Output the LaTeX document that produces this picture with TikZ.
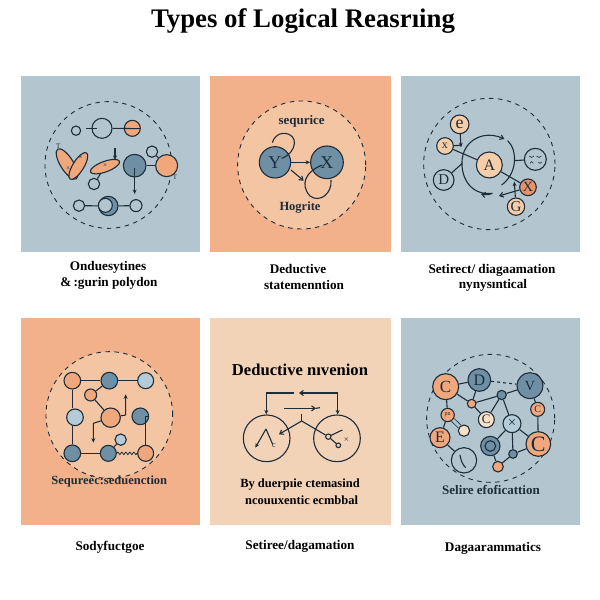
\documentclass[tikz,border=0pt]{standalone}
\usepackage{fontspec}
\setmainfont{Liberation Serif}
\usetikzlibrary{arrows.meta,decorations.pathmorphing,shapes.geometric}
\definecolor{ink}{HTML}{1E2D3A}
\definecolor{panelblue}{HTML}{B3C6CF}
\definecolor{panelorange}{HTML}{F2B08B}
\definecolor{panelpeach}{HTML}{F3D3B8}
\definecolor{glow}{HTML}{F3C5A2}
\definecolor{steel}{HTML}{6E8FA4}
\definecolor{lightsteel}{HTML}{B5CCD8}
\definecolor{orangefill}{HTML}{F0A77C}
\definecolor{peachfill}{HTML}{F6CDA9}
\definecolor{creamfill}{HTML}{F8E1C8}
\definecolor{deeporange}{HTML}{E5936A}
\tikzset{
  dot/.style={circle,draw=ink,line width=1.1pt,inner sep=0pt,minimum size={#1pt/3},font=\fontsize{11}{11}\selectfont,text=ink},
  halo/.style={circle,draw=ink,line width=.9pt,dash pattern=on 4.5pt off 4.5pt,inner sep=0pt,minimum size={#1pt/3}},
  lobe/.style={ellipse,draw=ink,line width=1.1pt,fill=orangefill,inner sep=0pt},
  wire/.style={draw=ink,line width=1.1pt},
  arr/.style={wire,-{Stealth[length=4.5pt,width=4pt]}},
  vee/.style={wire,-{Straight Barb[length=3.5pt,width=5pt]}},
  caption/.style={font=\fontsize{13.2}{13.2}\selectfont\bfseries,text=black,inner sep=0pt},
  intext/.style={font=\fontsize{12.5}{12.5}\selectfont\bfseries,text=ink,inner sep=0pt},
  zoomed/.style={x=0.3333pt,y=-0.3333pt},
  glyph/.style={font=\fontsize{7}{7}\selectfont,text=ink,inner sep=0pt}
}
\begin{document}
\begin{tikzpicture}[x=1pt,y=-1pt]
\useasboundingbox (0,0) rectangle (600,600);
\fill[white] (0,0) rectangle (600,600);
% panels
\fill[panelblue] (21,76) rectangle (200,252);
\fill[panelorange] (210,76) rectangle (391,252);
\fill[panelblue] (401,76) rectangle (580,252);
\fill[panelorange] (21,318) rectangle (200,525);
\fill[panelpeach] (210,318) rectangle (391,525);
\fill[panelblue] (401,318) rectangle (580,525);
% title and captions
\node[inner sep=0pt,font=\fontsize{26.8}{26.8}\selectfont\bfseries] (title) at (303,21) {Types of Logical Reasrıing};
\node[caption] (c1a) at (108,267.5) {Onduesytines};
\node[caption] (c1b) at (109,283) {\&\,:gurin polydon};
\node[caption] (c2a) at (298,268.5) {Deductive};
\node[caption] (c2b) at (304,284.5) {statemenntion};
\node[caption] (c3a) at (492,270) {Setirect/ diagaamation};
\node[caption] (c3b) at (493,285.5) {nynysıntical};
\node[caption] (c4) at (110,547) {Sodyfuctgoe};
\node[caption] (c5) at (300,546) {Setiree/dagamation};
\node[caption] (c6) at (493,548.5) {Dagaarammatics};

% ---------- panel 1
\begin{scope}[shift={(20,70)},zoomed]
\node[halo=380] (ah) at (265,285) {};
\node[dot=28] (a1) at (168,182) {};
\node[dot=60] (a2) at (246,175) {};
\node[dot=48,fill=orangefill] (a3) at (337,175) {};
\coordinate (a2l) at (198,176); \coordinate (a2i) at (232,176); \coordinate (a3i) at (360,176);
\draw[wire] (a2l) -- (a2i);
\draw[wire] (a2.east) -- (a3i);
\node[lobe,minimum width=35pt,minimum height=13pt,rotate=-58] (e1) at (141,282) {};
\node[lobe,minimum width=31pt,minimum height=11pt,rotate=58] (e2) at (175,288) {};
\node[lobe,minimum width=31pt,minimum height=10.5pt,rotate=20] (e3) at (255,290) {};
\node[glyph] (e3x) at (255,288) {×};
\node[glyph] (e2x) at (182,263) {×};
\node[glyph] (e1x) at (144,296) {×};
\node[glyph] (t1) at (115,230) {T};
\node[glyph] (t2) at (465,323) {T};
\node[dot=34] (a4) at (222,342) {};
\draw[wire] (a4) -- (e3);
\node[dot=34] (a5) at (396,245) {};
\node[dot=68,fill=steel] (a6) at (344,287) {};
\node[dot=66,fill=orangefill] (a7) at (440,287) {};
\draw[wire] (a6) -- (a7);
\draw[wire] (a5) -- (a7);
\coordinate (a6b) at (344,372); \coordinate (a6t) at (344,295);
\draw[arr] (a6t) -- (a6b);
\coordinate (e3t) at (285,235); \coordinate (e3a) at (285,270);
\draw[arr] (e3t) -- (e3a);
\node[dot=34] (a8) at (177,407) {};
\node[dot=58,fill=steel] (a9) at (265,408) {};
\node[dot=36] (a10) at (348,407) {};
\draw[wire] (a8) -- (a9);
\draw[wire] (a9) -- (a10);
\node[dot=42,fill=panelblue] (a9i) at (256,406) {};
\end{scope}

% ---------- panel 2
\begin{scope}[shift={(205,70)},zoomed]
\node[halo=384,fill=glow] (bh) at (290,285) {};
\node[intext,font=\fontsize{13}{13}\selectfont\bfseries] (bt) at (290,153) {sequrice};
\node[intext,font=\fontsize{12.5}{12.5}\selectfont\bfseries] (bb) at (285,412) {Hogrite};
\node[dot=94,fill=steel,font=\fontsize{18}{18}\selectfont] (Y) at (210,277) {Y};
\node[dot=98,fill=steel,font=\fontsize{18}{18}\selectfont] (X) at (366,277) {X};
\draw[arr] (Y) -- (X);
\coordinate (y1) at (230,265); \coordinate (y2) at (202,218);
\draw[wire] (y1) .. controls (275,250) and (285,190) .. (235,190) .. controls (218,190) and (205,205) .. (y2);
\coordinate (x1) at (352,285); \coordinate (x2) at (378,330);
\draw[wire] (x1) .. controls (300,305) and (285,345) .. (315,378) .. controls (345,400) and (382,370) .. (x2);
\coordinate (y3) at (258,300); \coordinate (y4) at (296,332);
\draw[vee] (y3) -- (y4);
\end{scope}

% ---------- panel 3
\begin{scope}[shift={(395,70)},zoomed]
\node[halo=394] (ch) at (283,282) {};
\node[dot=78,fill=peachfill,font=\fontsize{16}{16}\selectfont] (A) at (283,285) {A};
\coordinate (r1) at (212,235); \coordinate (r2) at (328,207); \coordinate (r3) at (338,212); \coordinate (r4) at (320,345);
\coordinate (r5) at (258,372); \coordinate (rr) at (357,272); \coordinate (r6) at (292,370);
\draw[vee] (r1) .. controls (238,192) and (288,188) .. (r2);
\draw[wire] (r3) .. controls (368,240) and (368,310) .. (r4);
\draw[wire] (r1) .. controls (185,280) and (205,380) .. (r6);
\draw[vee] (r6) .. controls (280,375) and (270,375) .. (r5);
\node[dot=56,fill=peachfill,font=\fontsize{18}{18}\selectfont] (ce) at (194,163) {e};
\node[dot=50,fill=peachfill,font=\fontsize{12}{12}\selectfont] (cx) at (150,228) {x};
\node[dot=62,font=\fontsize{15}{15}\selectfont] (cD) at (146,330) {D};
\node[dot=50,fill=deeporange,font=\fontsize{14}{14}\selectfont] (cX) at (399,352) {X};
\node[dot=52,fill=peachfill,font=\fontsize{15}{15}\selectfont] (cG) at (363,410) {G};
\node[dot=66] (cf) at (421,268) {};
\draw[wire,line width=.6pt] (403,258) .. controls (407,264) and (413,264) .. (417,258);
\draw[wire,line width=.6pt] (425,258) .. controls (429,264) and (435,264) .. (439,258);
\draw[wire,line width=.6pt] (405,280) -- (410,275) -- (415,280);
\draw[wire,line width=.6pt] (430,276) -- (435,280) -- (440,276);
\draw[wire] (cx) -- (A);
\draw[wire] (A) -- (cX);
\coordinate (rd) at (202,280);
\draw[wire] (cD) -- (rd);
\draw[wire] (rr) -- (cf);
\coordinate (ea) at (198,232); \coordinate (exa) at (200,226);
\draw[arr] (ce) -- (ea);
\draw[wire] (cx) -- (exa);
\coordinate (ga) at (358,335); \coordinate (xa) at (312,378);
\draw[arr] (cG) -- (ga);
\draw[vee] (cX) -- (xa);
\end{scope}

% ---------- panel 4
\begin{scope}[shift={(15,315)},zoomed]
\node[halo=380,fill=glow] (dh) at (283,300) {};
\node[dot=50,fill=orangefill] (n1) at (172,197) {};
\node[dot=50,fill=steel] (n2) at (283,197) {};
\node[dot=48,fill=lightsteel] (n3) at (392,197) {};
\node[dot=36,fill=orangefill] (n4) at (227,240) {};
\node[dot=50,fill=lightsteel] (n5) at (180,307) {};
\node[dot=58,fill=orangefill] (n6) at (287,308) {};
\node[dot=50,fill=steel] (n7) at (376,304) {};
\node[dot=50,fill=steel] (n8) at (172,415) {};
\node[dot=48,fill=steel] (n9) at (280,415) {};
\node[dot=48,fill=orangefill] (n10) at (392,415) {};
\node[dot=34,fill=lightsteel] (n11) at (317,374) {};
\draw[wire] (n1) -- (n2);
\draw[wire] (n2) -- (n3);
\draw[wire] (n1.south) -- (n1.south |- n5.north);
\draw[wire] (n8.north) -- (n8.north |- n5.south);
\draw[wire] (n8) -- (n9);
\draw[wire,line width=.8pt,decorate,decoration={zigzag,amplitude=1.3pt,segment length=4pt}] (n9) -- (n10);
\draw[wire] (n7) -| (n10);
\draw[wire] (n4) -- (n2);
\draw[wire] (n4) -- (n6);
\draw[wire] (n9) -- (n11);
\coordinate (u1) at (332,300); \coordinate (u2) at (332,238);
\draw[arr] (n6) -- (u1) -- (u2);
\coordinate (d1) at (235,325); \coordinate (d2) at (235,383);
\draw[arr] (n6) -- (d1) -- (d2);
\node[intext] (dt) at (283,498) {Sequreéc:seduenction};
\end{scope}

% ---------- panel 5
\begin{scope}[shift={(205,315)},zoomed]
\node[intext,font=\fontsize{16.6}{16.6}\selectfont\bfseries,text=black] (et) at (285,165) {Deductive nıvenion};
\node[dot=140] (L) at (185,370) {};
\node[dot=140] (R) at (396,370) {};
\coordinate (t1) at (268,234); \coordinate (t2) at (184,234);
\coordinate (t3) at (282,234); \coordinate (t4) at (398,234);
\draw[arr] (t1) -- (t2) -- (L.north -| t2);
\draw[arr] (t4) -- (R.north -| t4);
\draw[vee] (t4) -- (t3);
\coordinate (m1) at (237,280); \coordinate (m2) at (333,280); \coordinate (m3) at (345,278);
\draw[vee] (m1) -- (m2);
\draw[wire] (m2) -- (m3);
\coordinate (pk) at (290,318); \coordinate (pt) at (290,298);
\coordinate (pa) at (222,358);
\draw[wire] (pt) -- (pk);
\draw[vee] (pk) -- (pa);
\node[dot=16] (s1) at (370,365) {};
\node[dot=14] (s2) at (400,391) {};
\node[glyph,font=\fontsize{9}{9}\selectfont] (s3) at (424,376) {×};
\coordinate (s4) at (412,345);
\draw[wire] (pk) -- (s1);
\draw[wire] (s1) -- (s2);
\draw[wire] (s1) -- (s4);
\coordinate (g1) at (183,342); \coordinate (g2) at (151,398); \coordinate (g3) at (203,388);
\draw[arr] (g1) -- (g2);
\draw[wire] (g1) -- (g3);
\node[glyph,font=\fontsize{8}{8}\selectfont] (g4) at (207,393) {c};
\node[intext,text=black] (ef) at (285,508) {By duerpıie ctemasind};
\node[intext,text=black] (eg) at (290,555) {ncouuxentic ecmbbal};
\end{scope}

% ---------- panel 6
\begin{scope}[shift={(395,315)},zoomed]
\node[halo=384] (fh) at (287,310) {};
\node[dot=78,fill=orangefill,font=\fontsize{17}{17}\selectfont] (fC) at (152,215) {C};
\node[dot=68,fill=steel,font=\fontsize{16}{16}\selectfont] (fD) at (253,195) {D};
\node[dot=78,fill=steel,font=\fontsize{14}{14}\selectfont] (fV) at (405,212) {V};
\node[dot=28,fill=steel] (f1) at (320,240) {};
\node[dot=26,fill=orangefill] (f2) at (230,266) {};
\node[dot=48,fill=creamfill,font=\fontsize{13}{13}\selectfont] (f3) at (274,314) {C};
\node[dot=54,fill=lightsteel,font=\fontsize{15}{15}\selectfont] (f4) at (351,326) {×};
\node[dot=42,fill=orangefill,font=\fontsize{10}{10}\selectfont] (f5) at (428,283) {C};
\node[dot=40,fill=orangefill,font=\fontsize{6}{6}\selectfont] (f6) at (158,300) {pn};
\node[dot=34,fill=creamfill] (f7) at (207,347) {};
\node[dot=60,fill=orangefill,font=\fontsize{16}{16}\selectfont] (fE) at (135,368) {E};
\node[dot=76] (f8) at (207,436) {};
\node[dot=58,fill=steel] (fO) at (286,393) {};
\node[dot=32,fill=steel] (fOi) at (286,393) {};
\node[dot=26,fill=steel] (f9) at (354,417) {};
\node[dot=32,fill=orangefill] (f10) at (309,455) {};
\node[dot=74,fill=orangefill,font=\fontsize{22}{22}\selectfont] (fC2) at (430,387) {C};
\draw[wire] (fC) -- (fD);
\draw[wire] (fD) -- (f2);
\draw[wire] (fC) -- (f2);
\draw[wire] (f2) -- (f1);
\draw[wire] (f1) -- (fV);
\draw[wire,dashed] (fD) -- (fV);
\draw[wire] (f1) -- (f3);
\draw[wire] (f1) -- (f4);
\draw[wire] (f2) -- (f3);
\draw[wire] (fV) -- (f5);
\draw[wire] (f5) -- (fC2);
\draw[wire] (f4) -- (fC2);
\draw[wire] (f4) -- (f9);
\draw[wire] (f4) -- (fO);
\draw[wire] (f9) -- (fC2);
\draw[wire] (f9) -- (f10);
\draw[wire] (fO) -- (f10);
\draw[wire] (fC) -- (f6);
\draw[wire,double=panelblue,double distance=3pt,line width=.8pt] (f6) -- (f7);
\draw[wire] (f6) -- (fE);
\draw[wire] (fE) -- (f8);
\coordinate (sl1) at (195,420); \coordinate (sl2) at (212,458);
\draw[wire] (sl1) .. controls (197,435) and (203,450) .. (sl2);
\node[intext,font=\fontsize{13}{13}\selectfont\bfseries] (ft) at (288,526) {Selire efoficattion};
\end{scope}
\end{tikzpicture}
\end{document}
